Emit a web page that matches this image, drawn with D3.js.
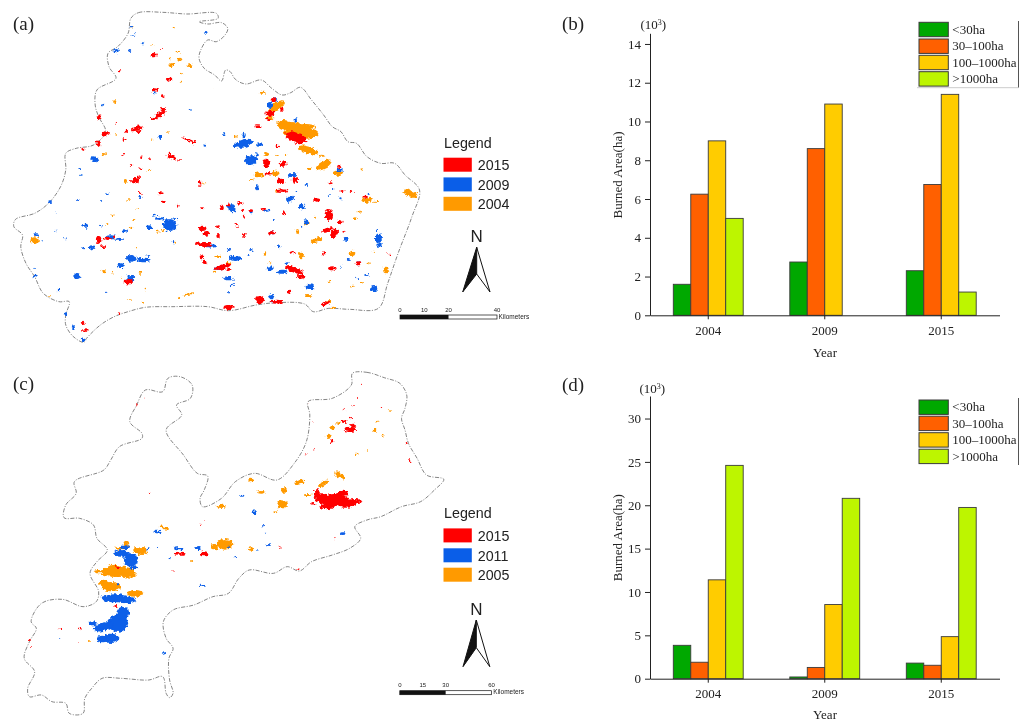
<!DOCTYPE html>
<html>
<head>
<meta charset="utf-8">
<script src="https://cdn.jsdelivr.net/npm/d3@7"></script>
<style>
body { margin: 0; background: #fff; }
text { fill: #222; }
.serif { font-family: "Liberation Serif", serif; font-size: 13px; }
.sans { font-family: "Liberation Sans", sans-serif; }
</style>
</head>
<body>
<svg id="fig" width="1033" height="720"></svg>
<script>
// bar chart values, in 10^3 ha
var years = ["2004", "2009", "2015"];
var sizeClasses = ["<30ha", "30\u2013100ha", "100\u20131000ha", ">1000ha"];
var classColors = ["#00a800", "#ff6000", "#ffcc00", "#bdf500"];
var burnedB = [[1.6, 6.25, 9.0, 5.0], [2.75, 8.6, 10.9, 0], [2.3, 6.75, 11.4, 1.2]];
var burnedD = [[3.85, 1.9, 11.4, 24.6], [0.2, 1.3, 8.55, 20.8], [1.8, 1.55, 4.85, 19.75]];
var ticksB = [0, 2, 4, 6, 8, 10, 12, 14];
var ticksD = [0, 5, 10, 15, 20, 25, 30];

// map outlines, map units
var boundaryA = [[378,55],[400,38],[470,37],[540,42],[625,40],[630,55],[575,65],[600,72],[640,68],[658,85],[650,105],[625,125],[600,120],[580,150],[575,175],[590,205],[620,225],[640,243],[652,210],[665,215],[680,238],[710,252],[755,240],[785,265],[815,285],[840,278],[868,262],[900,300],[935,345],[960,380],[985,395],[1005,425],[1030,430],[1060,470],[1100,490],[1140,490],[1170,525],[1212,570],[1190,650],[1150,760],[1120,850],[1093,925],[1010,928],[950,925],[905,935],[880,912],[800,908],[740,915],[660,932],[600,920],[500,920],[420,922],[370,935],[330,950],[290,975],[250,1015],[242,1027],[210,1008],[190,975],[190,945],[200,905],[170,905],[125,880],[100,830],[75,790],[60,740],[65,705],[40,680],[45,658],[100,640],[140,610],[175,560],[190,510],[190,460],[220,445],[270,435],[305,395],[285,350],[275,315],[280,270],[335,235],[315,200],[312,160],[340,140],[370,100]];
var boundaryC = [[1018,25],[1060,22],[1110,38],[1155,55],[1175,90],[1170,130],[1160,160],[1170,195],[1180,235],[1205,280],[1232,330],[1282,343],[1255,375],[1215,410],[1160,425],[1100,455],[1060,465],[1025,485],[1042,520],[1010,550],[960,570],[900,590],[865,618],[830,605],[790,625],[720,615],[690,640],[660,685],[615,695],[560,720],[500,735],[472,770],[480,820],[500,850],[488,880],[490,945],[500,985],[490,998],[480,985],[470,935],[430,945],[350,940],[295,940],[265,970],[245,1000],[240,1045],[200,1045],[190,1015],[150,1010],[120,990],[85,995],[80,970],[100,920],[70,880],[85,830],[105,790],[90,770],[120,715],[180,703],[240,725],[278,710],[285,680],[260,625],[280,590],[310,555],[280,520],[270,480],[230,460],[185,458],[190,420],[220,385],[215,350],[300,315],[320,285],[345,245],[410,220],[410,205],[375,170],[395,120],[420,75],[470,80],[485,40],[520,35],[555,60],[550,100],[510,120],[525,150],[480,195],[530,270],[570,325],[600,333],[590,375],[578,400],[585,425],[640,400],[680,350],[735,325],[800,345],[850,295],[885,230],[895,150],[890,110],[960,100],[1015,60]];

// burned patches: x, y, rx, ry, angle
var fires2015A = [[445,165,8,7],[468,147,3,3],[487,237,8,5],[345,214,5,3],[447,270,9,5],[470,288,5,6],[285,352,6,6],[305,400,13,5,-20],[285,430,6,9],[240,448,4,5],[460,345,22,7,-35],[440,358,6,4],[472,328,8,5],[395,385,18,6,-20],[400,395,8,5],[365,395,5,3],[360,418,5,4],[335,368,3,3],[355,465,5,3],[408,470,3,4],[495,470,14,7,20],[520,480,5,2],[545,420,20,3,20],[560,428,5,5],[380,495,5,3],[390,542,11,8],[400,530,4,6],[405,505,3,3],[433,478,3,3],[405,578,6,3],[465,580,8,3],[470,605,6,3],[515,617,4,3],[578,550,4,8],[585,625,5,3],[640,622,6,8],[660,615,5,5],[693,610,8,4],[700,630,5,3],[725,632,6,4],[760,628,8,4],[585,685,11,8],[595,700,10,7],[630,708,5,6],[630,680,6,4],[590,733,22,7],[570,730,6,5],[605,735,8,5],[582,770,5,8],[592,787,8,5],[680,672,6,3],[685,682,5,3],[705,705,7,6],[705,650,3,3],[645,800,22,7,-15],[625,805,6,5],[660,808,5,5],[750,898,13,12],[800,905,18,6],[835,875,6,6],[660,922,14,7],[940,910,12,6,-25],[240,970,4,5],[245,992,8,4],[345,940,5,3],[790,300,8,6],[815,327,7,5],[780,340,13,8],[775,358,7,4],[745,380,10,4],[855,412,32,15,20],[800,438,7,4],[770,490,10,12],[818,492,10,8],[812,543,10,10],[852,540,9,9],[775,520,10,4],[815,572,18,4],[980,500,6,6],[915,600,10,5],[950,645,12,18],[982,665,8,5],[945,690,18,6,-20],[965,700,10,15,30],[1015,572,5,4],[988,573,8,3],[955,550,6,3],[995,695,6,3],[935,760,4,4],[960,805,12,6],[1035,790,8,6],[1055,590,8,3],[1123,763,5,3],[845,757,7,3],[785,700,10,6],[820,640,5,6],[850,810,28,8,20],[870,830,12,6],[835,800,8,5],[285,720,8,12],[310,715,10,5],[300,740,8,4],[330,712,5,4],[372,845,12,8]];
var fires2009A = [[337,152,9,5],[375,153,4,3],[413,130,4,3],[385,105,6,2],[377,80,4,2],[595,97,4,4],[447,280,5,3],[462,412,4,6],[273,478,12,8,20],[297,314,4,3],[548,330,3,3],[592,437,4,3],[648,403,3,3],[705,430,26,12,-15],[680,437,7,6],[705,405,5,7],[750,435,10,5],[725,480,18,14],[742,465,6,5],[780,315,8,9],[795,300,5,5],[853,360,5,5],[845,525,13,6],[742,562,5,9],[838,597,13,8,-40],[855,575,4,3],[980,510,10,5],[145,605,6,4],[226,600,4,3],[292,603,3,3],[310,583,4,3],[160,640,3,2],[230,507,4,3],[233,525,3,2],[245,677,10,6],[290,677,4,3],[105,704,8,4],[122,722,5,2],[160,692,3,3],[190,715,3,3],[320,712,15,6],[345,718,10,5],[265,742,8,6],[360,692,7,4],[240,745,3,3],[380,775,16,10],[415,780,20,7],[430,768,4,3],[350,797,10,7],[378,835,10,10],[222,828,10,9],[170,870,6,4],[100,805,4,2],[100,830,6,3],[308,877,2,2],[432,683,8,7],[490,675,20,18],[460,655,12,5],[445,645,5,5],[505,655,4,4],[500,725,4,5],[405,592,6,5],[670,625,10,12],[660,620,4,4],[725,635,5,5],[770,632,8,3],[610,738,14,5],[660,750,6,3],[680,775,18,8],[725,750,5,3],[718,768,3,3],[630,805,12,5],[660,835,14,6],[670,855,6,4],[660,878,5,2],[780,805,10,6],[815,815,15,6],[830,790,5,3],[895,860,12,7],[785,890,7,8],[790,905,8,5],[805,740,5,5],[790,660,4,3],[785,700,8,6],[872,620,10,8],[885,665,6,8],[870,680,3,3],[1000,718,8,5],[1093,715,10,14],[1088,690,3,3],[1095,735,8,5],[1035,790,6,6],[1005,780,6,3],[1080,865,10,10],[1060,825,5,3],[1032,835,4,2],[985,800,3,3],[885,555,5,3],[985,595,5,3],[950,585,3,3],[960,567,3,3],[1065,582,3,3],[190,942,4,5],[212,982,4,6],[240,1018,8,4,30]];
var fires2004A = [[380,80,3,2],[503,82,5,3],[440,135,3,2],[515,155,5,3],[520,178,6,5],[491,175,5,3],[495,195,8,6],[548,197,6,4],[525,220,3,3],[522,245,3,3],[618,266,3,2],[330,305,3,4],[300,463,6,4],[485,396,3,2],[335,405,5,2],[440,420,3,2],[760,278,10,3],[800,318,26,12,-30],[780,355,10,7],[820,370,22,10],[840,380,35,14],[870,400,50,18],[885,380,25,8],[890,450,30,11,15],[935,495,26,11,-30],[895,505,6,4],[975,520,14,7],[930,467,10,3],[770,462,7,6],[770,490,8,8],[800,465,6,3],[825,465,5,3],[750,525,14,8],[795,520,12,8],[725,540,8,3],[800,572,5,3],[680,410,4,4],[590,550,6,3],[1185,580,22,9,20],[1195,590,8,6],[1045,510,3,5],[1060,600,16,8],[1085,605,10,3],[1038,635,5,3],[1027,655,7,3],[915,720,18,7,-20],[885,670,6,6],[860,695,4,8],[870,765,8,10],[1018,760,8,8],[1115,810,8,10],[910,650,3,3],[100,722,12,10],[325,645,3,3],[307,672,3,3],[385,660,3,3],[380,683,5,3],[393,743,4,2],[395,628,4,2],[370,600,6,2],[430,510,4,3],[362,543,5,6],[300,815,7,5],[325,822,3,3],[350,833,3,3],[405,818,5,3],[420,868,3,3],[455,695,6,3],[470,690,4,3],[505,725,4,3],[545,882,15,3,-15],[520,895,6,2],[413,908,3,3],[375,900,6,2],[142,888,4,2],[630,770,8,4],[660,790,8,5],[620,815,5,3],[765,762,4,6],[780,790,4,3],[890,888,12,3],[950,905,8,5],[965,925,10,2],[950,845,4,4],[1020,860,6,3],[1045,850,4,4],[1080,755,3,3],[1065,790,3,3]];
var fires2015C = [[1010,193,18,8],[1020,182,8,6],[1015,160,5,3],[995,170,8,4],[958,228,5,6],[885,268,4,3],[905,255,3,2],[1185,290,4,4],[1175,235,3,2],[1035,100,2,2],[1042,58,2,2],[995,135,2,2],[1020,122,2,2],[1102,127,2,2],[905,170,2,2],[965,405,42,18],[930,400,20,15],[915,385,8,12],[1000,418,30,10],[1025,408,25,6],[990,385,18,8],[945,425,22,8],[905,415,6,4],[590,565,10,6],[520,566,16,3],[335,723,5,3],[340,606,8,3],[808,546,3,2],[968,520,2,3],[862,612,3,3],[86,825,3,3],[88,846,3,2],[175,791,3,2],[233,791,3,2],[228,830,2,1],[432,382,2,2],[395,120,2,2],[418,100,2,2],[888,118,2,2],[580,478,2,2],[592,466,2,1],[500,618,2,2]];
var fires2011C = [[700,392,6,3],[735,442,6,6],[760,482,3,2],[770,505,4,2],[455,501,12,4],[990,506,8,4],[775,540,5,3],[745,557,5,2],[518,551,15,5],[572,549,10,6],[490,580,4,3],[585,662,8,3],[680,578,3,2],[660,546,4,4],[362,547,12,6],[455,547,3,2],[428,550,5,3],[350,565,22,10],[378,585,20,20],[385,608,12,4],[340,658,5,3],[335,700,40,12],[365,705,28,10],[300,698,6,4],[340,775,30,26],[355,745,18,20],[300,785,30,12,-15],[268,775,12,6],[320,820,24,14],[295,822,14,10],[312,848,2,2],[173,818,2,2],[475,865,8,3,-20]];
var fires2005C = [[640,424,14,5],[755,382,12,4],[725,345,8,4],[820,375,8,8],[865,352,16,6,-20],[935,355,18,7,-30],[980,330,16,8,30],[815,418,14,12],[795,442,6,3],[960,190,6,6],[978,173,7,4],[948,214,7,5],[1082,195,5,6],[1105,212,3,4],[1128,138,5,2],[1090,170,3,3],[1030,268,3,2],[1060,255,3,2],[890,390,10,3],[475,488,14,4,20],[650,538,24,16],[620,545,12,8],[725,552,9,5],[555,588,3,3],[365,535,8,8],[345,550,12,4],[410,558,16,12],[395,555,10,6],[340,620,50,16],[330,605,15,6],[375,630,20,8],[285,620,14,5],[320,665,28,14],[300,655,14,8],[390,685,24,10],[258,828,5,3]];

var svg = d3.select("#fig");

var defs = svg.append("defs");
var rough = defs.append("filter").attr("id", "rough")
    .attr("x", "0").attr("y", "0").attr("width", "1").attr("height", "1");
rough.append("feTurbulence").attr("type", "fractalNoise").attr("baseFrequency", 0.35)
    .attr("numOctaves", 2).attr("seed", 4).attr("result", "n");
rough.append("feDisplacementMap").attr("in", "SourceGraphic").attr("in2", "n")
    .attr("scale", 5).attr("xChannelSelector", "R").attr("yChannelSelector", "G").attr("result", "d");
rough.append("feGaussianBlur").attr("in", "d").attr("stdDeviation", 0.35);

drawMap({
    letter: "(a)", letterY: 30, top: 0, bottom: 350, yDomain: 1050,
    boundary: boundaryA,
    layers: [fires2004A, fires2009A, fires2015A],
    legendYears: ["2015", "2009", "2004"],
    legendY: 147.5, swatchY: [157.7, 177.4, 196.8], labelY: [170, 189.7, 209],
    northY: 242.3, arrow: {x: 476.7, top: 247.3, notch: 274, left: 462.7, right: 490, bottom: 292},
    scale: {x0: 400, x1: 497, km: [0, 10, 20, 40], labelY: 311.7, barY: 315, kmX: 498.5, kmY: 319}
});
drawMap({
    letter: "(c)", letterY: 390, top: 365, bottom: 720, yDomain: 1065,
    boundary: boundaryC,
    layers: [fires2005C, fires2011C, fires2015C],
    legendYears: ["2015", "2011", "2005"],
    legendY: 517.7, swatchY: [528.4, 548.3, 567.7], labelY: [540.7, 560.7, 580],
    northY: 615, arrow: {x: 476.3, top: 620, notch: 647.7, left: 463, right: 489.8, bottom: 666.7},
    scale: {x0: 399.8, x1: 491.5, km: [0, 15, 30, 60], labelY: 687.3, barY: 690.7, kmX: 493.3, kmY: 694}
});

drawBars({
    letter: "(b)", letterY: 30, values: burnedB, ticks: ticksB, yMax: 14.55,
    y0: 315.3, y1: 33.3, expY: 29, expX: 640.5, labelY: 175, yearY: 356.7,
    legendTop: [22.3, 39, 55.3, 71.7], legendText: [34, 50.3, 66.7, 83],
    ruleTop: 21, ruleBottom: 87.7, underline: true
});
drawBars({
    letter: "(d)", letterY: 390.5, values: burnedD, ticks: ticksD, yMax: 32.6,
    y0: 678.7, y1: 396, expY: 392.7, expX: 639.5, labelY: 537.7, yearY: 718.5,
    legendTop: [400, 416.2, 432.7, 449.2], legendText: [411.3, 427.7, 444, 460.7],
    ruleTop: 398, ruleBottom: 465, underline: false
});

function drawBars(opt) {
    var x = d3.scaleBand().domain(years).range([650, 999.5])
        .paddingInner(0.4).paddingOuter(0.2);
    var sub = d3.scaleBand().domain(sizeClasses).range([0, x.bandwidth()]);
    var y = d3.scaleLinear().domain([0, opt.yMax]).range([opt.y0, opt.y1]);
    var color = d3.scaleOrdinal().domain(sizeClasses).range(classColors);
    var g = svg.append("g");

    years.forEach((year, i) => {
        g.append("g").selectAll("rect")
            .data(opt.values[i].map((v, j) => ({cls: sizeClasses[j], v: v})).filter((d) => d.v > 0))
            .enter().append("rect")
            .attr("x", (d) => x(year) + sub(d.cls))
            .attr("y", (d) => y(d.v))
            .attr("width", sub.bandwidth())
            .attr("height", (d) => y(0) - y(d.v))
            .attr("fill", (d) => color(d.cls))
            .attr("stroke", "#3a3a3a")
            .attr("stroke-width", 0.9);
    });

    var xAxis = g.append("g").attr("class", "serif")
        .attr("transform", "translate(0," + opt.y0 + ")")
        .call(d3.axisBottom(x).tickSize(4).tickSizeOuter(0).tickPadding(6));
    var yAxis = g.append("g").attr("class", "serif")
        .attr("transform", "translate(650,0)")
        .call(d3.axisLeft(y).tickValues(opt.ticks).tickSize(5).tickSizeOuter(0).tickPadding(4));
    [xAxis, yAxis].forEach((a) => {
        a.attr("font-family", null).attr("font-size", null);
        a.selectAll("path, line").attr("stroke", "#222");
    });

    g.append("text").attr("class", "serif")
        .attr("transform", "translate(622," + opt.labelY + ") rotate(-90)")
        .attr("text-anchor", "middle").text("Burned Area(ha)");
    g.append("text").attr("class", "serif")
        .attr("x", 825).attr("y", opt.yearY).attr("text-anchor", "middle").text("Year");
    g.append("text").attr("class", "serif").style("font-size", "19px")
        .attr("x", 562).attr("y", opt.letterY).text(opt.letter);

    var exp = g.append("text").attr("class", "serif").attr("x", opt.expX).attr("y", opt.expY);
    exp.append("tspan").text("(10");
    exp.append("tspan").attr("dy", -4).style("font-size", "8px").text("3");
    exp.append("tspan").attr("dy", 4).text(")");

    var legend = g.append("g");
    sizeClasses.forEach((c, i) => {
        legend.append("rect").attr("x", 919).attr("y", opt.legendTop[i])
            .attr("width", 29.3).attr("height", 14.4)
            .attr("fill", color(c)).attr("stroke", "#3a3a3a");
        legend.append("text").attr("class", "serif")
            .attr("x", 952.3).attr("y", opt.legendText[i]).text(c);
    });
    legend.append("line").attr("x1", 1018.5).attr("x2", 1018.5)
        .attr("y1", opt.ruleTop).attr("y2", opt.ruleBottom).attr("stroke", "#555");
    if (opt.underline) {
        legend.append("line").attr("x1", 917).attr("x2", 1018.5)
            .attr("y1", opt.ruleBottom).attr("y2", opt.ruleBottom).attr("stroke", "#ccc");
    }
}

function drawMap(opt) {
    var mapX = d3.scaleLinear().domain([0, 1560]).range([0, 540]);
    var mapY = d3.scaleLinear().domain([0, opt.yDomain]).range([opt.top, opt.bottom]);
    var fireColors = ["#ff9a00", "#0a5ee8", "#ff0000"];
    var g = svg.append("g");

    var line = d3.line().x((d) => mapX(d[0])).y((d) => mapY(d[1]))
        .curve(d3.curveCatmullRomClosed.alpha(0.5));
    g.append("path").datum(opt.boundary)
        .attr("d", line)
        .attr("fill", "none")
        .attr("stroke", "#666")
        .attr("stroke-width", 0.8)
        .attr("stroke-dasharray", "4 1.5 1 1.5");

    var patches = g.append("g").attr("filter", "url(#rough)");
    opt.layers.forEach((layer, i) => {
        patches.append("g").selectAll("ellipse")
            .data(layer)
            .enter().append("ellipse")
            .attr("rx", (d) => mapX(d[2]))
            .attr("ry", (d) => mapY(d[3]) - mapY(0))
            .attr("transform", (d) => "translate(" + mapX(d[0]) + "," + mapY(d[1]) + ") rotate(" + (d[4] || 0) + ")")
            .attr("fill", fireColors[i]);
    });

    g.append("text").attr("class", "serif").style("font-size", "19px")
        .attr("x", 13).attr("y", opt.letterY).text(opt.letter);

    g.append("text").attr("class", "sans").style("font-size", "14.3px")
        .attr("x", 444).attr("y", opt.legendY).text("Legend");
    opt.legendYears.forEach((yr, i) => {
        g.append("rect").attr("x", 443.5).attr("y", opt.swatchY[i])
            .attr("width", 28.3).attr("height", 14)
            .attr("fill", fireColors[2 - i]);
        g.append("text").attr("class", "sans").style("font-size", "14.3px")
            .attr("x", 477.7).attr("y", opt.labelY[i]).text(yr);
    });

    // north arrow
    var a = opt.arrow;
    g.append("text").attr("class", "sans").style("font-size", "17px")
        .attr("x", a.x).attr("y", opt.northY).attr("text-anchor", "middle").text("N");
    g.append("path")
        .attr("d", "M" + a.x + "," + a.top + "L" + a.left + "," + a.bottom + "L" + a.x + "," + a.notch + "Z")
        .attr("fill", "#111").attr("stroke", "#111");
    g.append("path")
        .attr("d", "M" + a.x + "," + a.top + "L" + a.right + "," + a.bottom + "L" + a.x + "," + a.notch + "Z")
        .attr("fill", "#fff").attr("stroke", "#111");

    // scale bar
    var s = opt.scale;
    var km = d3.scaleLinear().domain([0, s.km[3]]).range([s.x0, s.x1]);
    g.append("rect").attr("x", s.x0).attr("y", s.barY).attr("width", s.x1 - s.x0).attr("height", 4)
        .attr("fill", "#fff").attr("stroke", "#111").attr("stroke-width", 0.7);
    g.append("rect").attr("x", s.x0).attr("y", s.barY).attr("width", km(s.km[2]) - s.x0).attr("height", 4)
        .attr("fill", "#111");
    s.km.forEach((k) => {
        g.append("text").attr("class", "sans").style("font-size", "6px")
            .attr("x", km(k)).attr("y", s.labelY).attr("text-anchor", "middle").text(k);
    });
    g.append("text").attr("class", "sans").style("font-size", "6.5px")
        .attr("x", s.kmX).attr("y", s.kmY).text("Kilometers");
}
</script>
</body>
</html>
